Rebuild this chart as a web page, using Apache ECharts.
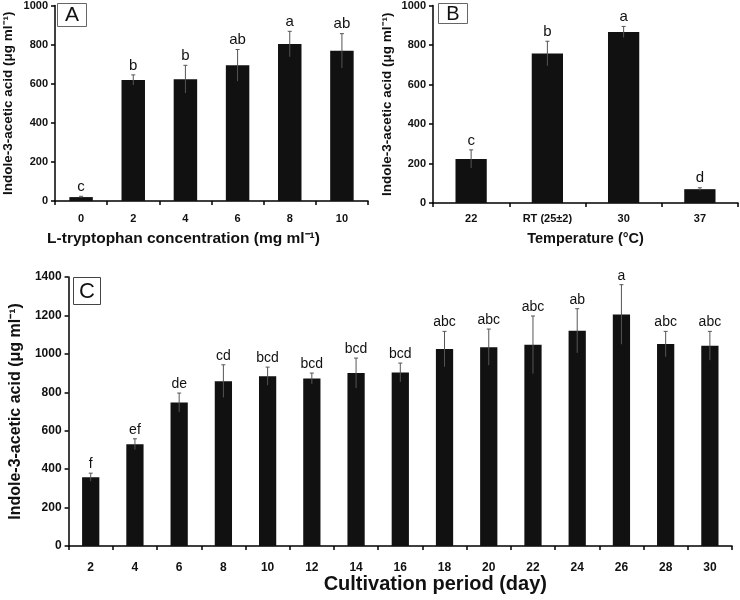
<!DOCTYPE html>
<html><head><meta charset="utf-8">
<script src="https://cdn.jsdelivr.net/npm/echarts@6/dist/echarts.min.js"></script>
<style>html,body{margin:0;padding:0;background:#fff}#c{width:740px;height:600px}</style>
</head><body><div id="c"></div>
<script>
// Panel A: L-tryptophan concentration
const catsA = ['0','2','4','6','8','10'];
const valsA = [20, 619, 623, 694, 803, 768];
const errA  = [4, 26, 71, 81, 65, 88];
const lettersA = ['c','b','b','ab','a','ab'];
// Panel B: Temperature
const catsB = ['22','RT (25±2)','30','37'];
const valsB = [223, 757, 866, 70];
const errB  = [46, 62, 28, 7];
const lettersB = ['c','b','a','d'];
// Panel C: Cultivation period
const catsC = ['2','4','6','8','10','12','14','16','18','20','22','24','26','28','30'];
const valsC = [358, 530, 747, 858, 884, 872, 900, 903, 1025, 1035, 1047, 1120, 1205, 1051, 1042];
const errC  = [21, 28, 49, 85, 47, 28, 78, 49, 92, 94, 150, 115, 155, 66, 75];
const lettersC = ['f','ef','de','cd','bcd','bcd','bcd','bcd','abc','abc','abc','ab','a','abc','abc'];

const FONT = '"Liberation Sans", Arial, sans-serif';
const chart = echarts.init(document.getElementById('c'));

function errData(vals, errs, letters){ return vals.map((v,i)=>[i, v, errs[i], letters[i]]); }
function errRender(capW, fontSize){
  return function(params, api){
    const i = api.value(0), v = api.value(1), e = api.value(2);
    const top = api.coord([i, v + e]);
    const bot = api.coord([i, Math.max(0, v - e)]);
    return {type:'group', children:[
      {type:'line', shape:{x1:top[0], y1:top[1], x2:bot[0], y2:bot[1]}, style:{stroke:'#555', lineWidth:1}},
      {type:'line', shape:{x1:top[0]-capW/2, y1:top[1], x2:top[0]+capW/2, y2:top[1]}, style:{stroke:'#555', lineWidth:1}},
      {type:'text', x: top[0], y: top[1]-2, style:{text: api.value(3), textAlign:'center', textVerticalAlign:'bottom', font: fontSize+'px '+FONT, fill:'#111'}}
    ]};
  };
}

function xAxis(grid, cats, name, fs, margin, nameGap, nameFs, padding){
  return {type:'category', gridIndex:grid, data:cats,
    axisLine:{lineStyle:{color:'#000', width:1.5}},
    axisTick:{show:true, inside:false, length:4, lineStyle:{color:'#000', width:1.5}},
    axisLabel:{color:'#111', fontWeight:'bold', fontSize:fs, fontFamily:FONT, margin:margin},
    name:name, nameLocation:'middle', nameGap:nameGap,
    nameTextStyle:{color:'#111', fontWeight:'bold', fontSize:nameFs, fontFamily:FONT, padding:padding}};
}
function yAxis(grid, max, name, fs, nameGap, nameFs){
  return {type:'value', gridIndex:grid, min:0, max:max, interval:200,
    axisLine:{show:true, lineStyle:{color:'#000', width:1.5}},
    axisTick:{show:true, inside:false, length:4, lineStyle:{color:'#000', width:1.5}},
    splitLine:{show:false},
    axisLabel:{color:'#111', fontWeight:'bold', fontSize:fs, fontFamily:FONT, margin:7, formatter:(v)=>String(v)},
    name:name, nameLocation:'middle', nameGap:nameGap,
    nameTextStyle:{color:'#111', fontWeight:'bold', fontSize:nameFs, fontFamily:FONT}};
}
const yName = 'Indole-3-acetic acid (μg ml⁻¹)';

chart.setOption({
  animation:false,
  backgroundColor:'#fff',
  grid:[
    {left:50, top:4, width:318, height:197},
    {left:433, top:4, width:305, height:199},
    {left:65, top:277, width:667, height:269}
  ],
  xAxis:[
    xAxis(0, catsA, 'L-tryptophan concentration (mg ml⁻¹)', 11, 12, 30, 15.5, [0,56,0,0]),
    xAxis(1, catsB, 'Temperature (°C)', 11, 10, 28, 14.5, 0),
    xAxis(2, catsC, 'Cultivation period (day)', 12, 16, 28, 20, [0,0,0,70])
  ],
  yAxis:[
    yAxis(0, 1000, yName, 11, 40, 13.5),
    yAxis(1, 1000, yName, 11, 39, 13.5),
    yAxis(2, 1400, yName, 12, 40, 16)
  ],
  series:[
    {type:'bar', xAxisIndex:0, yAxisIndex:0, data:valsA, barWidth:'45%', itemStyle:{color:'#111'}},
    {type:'bar', xAxisIndex:1, yAxisIndex:1, data:valsB, barWidth:'41%', itemStyle:{color:'#111'}},
    {type:'bar', xAxisIndex:2, yAxisIndex:2, data:valsC, barWidth:'39%', itemStyle:{color:'#111'}},
    {type:'custom', xAxisIndex:0, yAxisIndex:0, data:errData(valsA, errA, lettersA), renderItem:errRender(4, 15), z:5},
    {type:'custom', xAxisIndex:1, yAxisIndex:1, data:errData(valsB, errB, lettersB), renderItem:errRender(4, 15), z:5},
    {type:'custom', xAxisIndex:2, yAxisIndex:2, data:errData(valsC, errC, lettersC), renderItem:errRender(4, 14), z:5}
  ],
  graphic:[
    {type:'group', left:57, top:3, children:[
      {type:'rect', shape:{x:0, y:0, width:29, height:23}, style:{fill:'#fff', stroke:'#666', lineWidth:1}},
      {type:'text', x:14.5, y:12, style:{text:'A', textAlign:'center', textVerticalAlign:'middle', font:'21px '+FONT, fill:'#111'}}
    ]},
    {type:'group', left:438, top:3, children:[
      {type:'rect', shape:{x:0, y:0, width:29, height:20}, style:{fill:'#fff', stroke:'#666', lineWidth:1}},
      {type:'text', x:14.5, y:10.5, style:{text:'B', textAlign:'center', textVerticalAlign:'middle', font:'20px '+FONT, fill:'#111'}}
    ]},
    {type:'group', left:73, top:277, children:[
      {type:'rect', shape:{x:0, y:0, width:27, height:27}, style:{fill:'#fff', stroke:'#444', lineWidth:1}},
      {type:'text', x:13.5, y:14, style:{text:'C', textAlign:'center', textVerticalAlign:'middle', font:'22px '+FONT, fill:'#111'}}
    ]}
  ]
});
</script></body></html>
